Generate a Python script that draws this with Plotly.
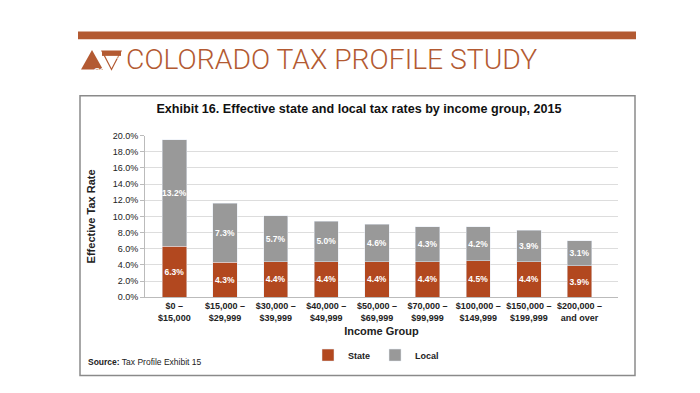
import plotly.graph_objects as go

categories = ["$0 –<br>$15,000", "$15,000 –<br>$29,999", "$30,000 –<br>$39,999",
              "$40,000 –<br>$49,999", "$50,000 –<br>$69,999", "$70,000 –<br>$99,999",
              "$100,000 –<br>$149,999", "$150,000 –<br>$199,999", "$200,000 –<br>and over"]
state = [6.3, 4.3, 4.4, 4.4, 4.4, 4.4, 4.5, 4.4, 3.9]
local = [13.2, 7.3, 5.7, 5.0, 4.6, 4.3, 4.2, 3.9, 3.1]
y_ticks = [0, 2, 4, 6, 8, 10, 12, 14, 16, 18, 20]

STATE_C = "#b2481f"
LOCAL_C = "#999999"
BRAND = "#b35a32"
FONT = "Liberation Sans"

W, H = 700, 393
def px(x):
    return x / W
def py(y):
    return 1 - y / H

fig = go.Figure()
for vals, name, col in [(state, "State", STATE_C), (local, "Local", LOCAL_C)]:
    fig.add_trace(go.Bar(
        x=list(range(len(categories))), y=vals, name=name, marker_color=col,
        text=[f"{v:.1f}%" for v in vals], textposition="inside", insidetextanchor="middle",
        textangle=0,
        textfont=dict(color="white", size=8.5, family=FONT, weight="bold"), constraintext="none",
        hoverinfo="skip"))

fig.update_layout(
    width=W, height=H, barmode="stack", bargap=0.52,
    margin=dict(l=0, r=0, t=0, b=0),
    paper_bgcolor="white", plot_bgcolor="white",
    font=dict(family=FONT, color="#222222"),
    xaxis=dict(domain=[px(137), px(610)], range=[-0.58, 8.76],
               tickmode="array", tickvals=list(range(len(categories))), ticktext=categories,
               tickfont=dict(size=9, weight="bold", color="#222"),
               showline=True, linecolor="#bbbbbb", linewidth=1, ticks="",
               title=dict(text="Income Group", font=dict(size=11, weight="bold", color="#222"), standoff=5),
               showgrid=False, zeroline=False),
    yaxis=dict(domain=[py(291.7), py(125.7)], range=[0, 20],
               tickvals=y_ticks, ticktext=[f"{v:.1f}%" for v in y_ticks],
               tickfont=dict(size=9, color="#222"),
               showgrid=True, gridcolor="#dddddd", gridwidth=1,
               showline=True, linecolor="#bbbbbb", ticks="outside", ticklen=4, tickcolor="#bbbbbb",
               title=dict(text="Effective Tax Rate", font=dict(size=11, weight="bold", color="#222"), standoff=14),
               zeroline=False),
    legend=dict(orientation="h", x=px(368), xanchor="center", y=py(351), yanchor="middle",
                font=dict(size=9, weight="bold", color="#222"), itemwidth=30, traceorder="normal"),
    title=dict(text="Exhibit 16. Effective state and local tax rates by income group, 2015",
               x=px(351), xanchor="center", y=py(101), yanchor="middle",
               font=dict(size=12.6, weight="bold", color="#111")),
)

shapes = [
    dict(type="rect", xref="paper", yref="paper", x0=px(70), x1=px(628), y0=py(27), y1=py(19),
         fillcolor=BRAND, line=dict(width=0)),
    dict(type="rect", xref="paper", yref="paper", x0=px(72), x1=px(627), y0=py(372), y1=py(85),
         fillcolor="rgba(0,0,0,0)", line=dict(color="#8a8a8a", width=1.5)),
    dict(type="path", xref="paper", yref="paper",
         path=f"M {px(73)},{py(58)} L {px(84)},{py(38)} L {px(95)},{py(58)} Z",
         fillcolor=BRAND, line=dict(width=0)),
    dict(type="path", xref="paper", yref="paper",
         path=f"M {px(94)},{py(39)} L {px(113)},{py(39)} L {px(103.5)},{py(58)} Z",
         fillcolor="white", line=dict(color=BRAND, width=1.2)),
    dict(type="rect", xref="paper", yref="paper", x0=px(94), x1=px(113), y0=py(44), y1=py(39),
         fillcolor=BRAND, line=dict(width=0)),
]
fig.update_layout(shapes=shapes)

fig.add_annotation(text="CO", xref="paper", yref="paper", x=px(84), y=py(52), showarrow=False,
                   font=dict(size=8, color="white", family=FONT, weight="bold"))
fig.add_annotation(text="CDOR", xref="paper", yref="paper", x=px(103.5), y=py(41.5), showarrow=False,
                   font=dict(size=4, color="white", family=FONT))
fig.add_annotation(text="COLORADO TAX PROFILE STUDY", xref="paper", yref="paper",
                   x=px(116), y=py(48), xanchor="left", yanchor="middle", showarrow=False,
                   font=dict(size=28.3, color=BRAND, family="Roboto", weight=300))
fig.add_annotation(text="<b>Source:</b> Tax Profile Exhibit 15", xref="paper", yref="paper",
                   x=px(78), y=py(358), xanchor="left", yanchor="middle", showarrow=False,
                   font=dict(size=8.5, color="#222", family=FONT))

fig.write_html("out.html")
